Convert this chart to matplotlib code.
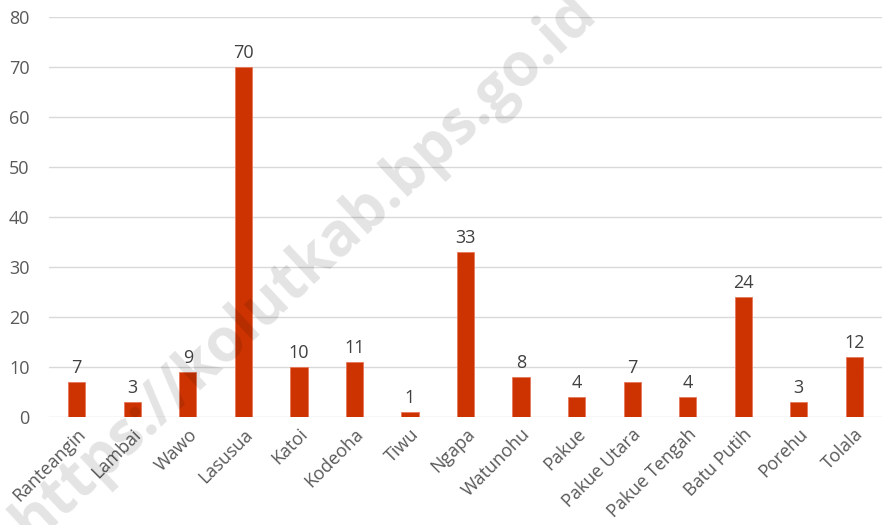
import matplotlib
matplotlib.use("Agg")
import matplotlib.pyplot as plt

categories = ["Ranteangin", "Lambai", "Wawo", "Lasusua", "Katoi", "Kodeoha", "Tiwu",
              "Ngapa", "Watunohu", "Pakue", "Pakue Utara", "Pakue Tengah", "Batu Putih",
              "Porehu", "Tolala"]
values = [7, 3, 9, 70, 10, 11, 1, 33, 8, 4, 7, 4, 24, 3, 12]
yticks = [0, 10, 20, 30, 40, 50, 60, 70, 80]

plt.rcParams['font.family'] = ['Open Sans', 'DejaVu Sans']

fig = plt.figure(figsize=(8.82, 5.25), dpi=100)
ax = fig.add_axes([0.0556, 0.2057, 0.9444, 0.762])

x = range(len(categories))
bars = ax.bar(x, values, width=0.31, color="#CC3300", edgecolor="#E8785A", linewidth=0.6, zorder=3)
for xi, v in zip(x, values):
    ax.text(xi, v + 1.0, str(v), ha="center", va="bottom", fontsize=13, color="#404040", zorder=4)

ax.set_xlim(-0.5, len(categories) - 0.5)
ax.set_ylim(0, 80)
ax.set_yticks(yticks)
ax.set_yticklabels([str(t) for t in yticks], fontsize=13, color="#595959")
ax.set_xticks(list(x))
ax.set_xticklabels(categories, rotation=45, ha="right", rotation_mode="anchor",
                   fontsize=13, color="#595959")
ax.tick_params(axis="both", length=0)
ax.tick_params(axis="y", pad=14)
ax.tick_params(axis="x", pad=6)
ax.grid(axis="y", color="#D9D9D9", linewidth=1.0, zorder=0)
for s in ax.spines.values():
    s.set_visible(False)

fig.text(0.345, 0.49, "https://kolutkab.bps.go.id", rotation=43, ha="center", va="center",
         fontsize=43, fontweight="bold", color="black", alpha=0.11, zorder=10)

fig.savefig("out.png", dpi=100)
